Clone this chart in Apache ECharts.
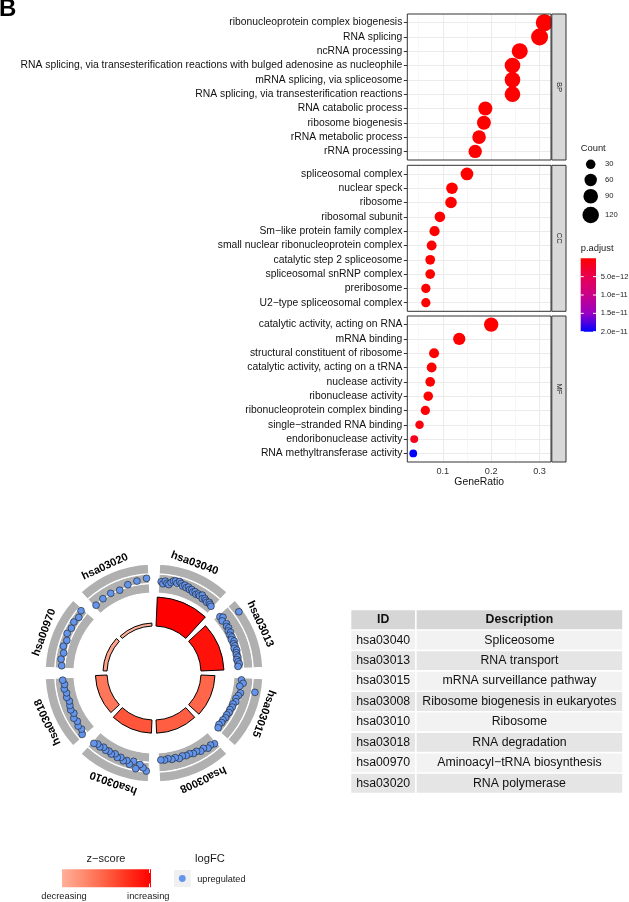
<!DOCTYPE html>
<html>
<head>
<meta charset="utf-8">
<script src="https://cdn.jsdelivr.net/npm/echarts@6.0.0/dist/echarts.min.js"></script>
<style>
html,body{margin:0;padding:0;background:#ffffff;}
#chart{width:629px;height:902px;}
</style>
</head>
<body>
<div id="chart"></div>
<script>
// ---------------- DATA ----------------
const bpTerms = ['ribonucleoprotein complex biogenesis','RNA splicing','ncRNA processing','RNA splicing, via transesterification reactions with bulged adenosine as nucleophile','mRNA splicing, via spliceosome','RNA splicing, via transesterification reactions','RNA catabolic process','ribosome biogenesis','rRNA metabolic process','rRNA processing'];
const bpRatio = [0.310,0.300,0.259,0.244,0.244,0.244,0.188,0.185,0.175,0.167];
const bpCount = [133,129,111,105,105,105,81,80,75,72];
const bpPadj  = [3e-30,2e-28,5e-25,4e-26,4e-26,6e-26,1e-18,2e-17,3e-16,1e-15];

const ccTerms = ['spliceosomal complex','nuclear speck','ribosome','ribosomal subunit','Sm\u2212like protein family complex','small nuclear ribonucleoprotein complex','catalytic step 2 spliceosome','spliceosomal snRNP complex','preribosome','U2\u2212type spliceosomal complex'];
const ccRatio = [0.150,0.119,0.117,0.094,0.083,0.077,0.074,0.074,0.065,0.065];
const ccCount = [64,51,50,40,36,33,32,32,28,28];
const ccPadj  = [1e-28,2e-20,3e-22,5e-18,2e-22,4e-19,1e-18,3e-20,2e-14,6e-17];

const mfTerms = ['catalytic activity, acting on RNA','mRNA binding','structural constituent of ribosome','catalytic activity, acting on a tRNA','nuclease activity','ribonuclease activity','ribonucleoprotein complex binding','single\u2212stranded RNA binding','endoribonuclease activity','RNA methyltransferase activity'];
const mfRatio = [0.200,0.134,0.082,0.077,0.074,0.070,0.064,0.052,0.041,0.039];
const mfCount = [86,58,35,33,32,30,28,22,18,17];
const mfPadj  = [2e-25,3e-16,4e-14,5e-15,2e-13,1e-13,3e-13,8e-13,1.8e-12,2.0e-11];

const xMajorTicks = [0.1,0.2,0.3];
const xMinorTicks = [0.05,0.15,0.25];
const countBreaks = [30,60,90,120];
const padjBreaks = [5e-12,1e-11,1.5e-11,2e-11];

const keggIds = ['hsa03040','hsa03013','hsa03015','hsa03008','hsa03010','hsa03018','hsa00970','hsa03020'];
const keggDesc = ['Spliceosome','RNA transport','mRNA surveillance pathway','Ribosome biogenesis in eukaryotes','Ribosome','RNA degradation','Aminoacyl\u2212tRNA biosynthesis','RNA polymerase'];
const keggNegLogP = [14.5,11.5,7.0,6.6,6.6,5.8,2.0,1.5];
const keggZscore = [7.7,7.3,5.4,5.6,5.8,5.0,3.9,3.5];
const lfcGrid = [0,1,2,3];
const lfc03040 = [1.2,1.0,1.3,1.1,1.0,1.25,1.45,1.5,1.3,1.55,1.4,1.2,1.35,1.15,1.3,1.1,1.2,1.0,1.15,0.95,1.1,1.0,1.2,0.9,1.05,0.95,0.85,1.0,0.9,0.8];
const lfc03013 = [0.7,0.9,0.6,2.55,0.8,0.65,0.75,0.55,0.7,0.5,0.6,0.45,0.65,0.5,0.55,0.4,0.6,0.5,0.45,0.55,0.4,0.5,0.6,0.45];
const lfc03015 = [0.8,1.0,0.7,2.35,0.9,0.75,0.6,0.7,0.5,0.55,0.45,0.5,0.4,0.45,0.35,0.4,0.3,0.45];
const lfc03008 = [1.35,1.2,1.3,1.05,1.15,0.95,1.0,0.85,0.9,0.8,0.95,0.75,0.85,0.7,0.8,0.75];
const lfc03010 = [1.9,1.6,1.3,1.8,1.1,1.5,1.2,1.35,1.1,1.25,1.0,1.2,1.05,1.15,1.0,1.2,1.1,1.3];
const lfc03018 = [1.5,1.2,1.3,1.1,1.25,1.0,1.15,1.05,0.95,1.1,1.0,1.15,1.05,1.2];
const lfc00970 = [1.3,1.45,1.3,1.5,1.35,1.6,1.45,1.55,1.4,1.65];
const lfc03020 = [0.95,1.05,1.1,1.0,1.25,1.4,1.55];

// ---------------- LAYOUT / STYLE ----------------
const FONT = '"Liberation Sans", Arial, Helvetica, sans-serif';
const keggLfc = [lfc03040,lfc03013,lfc03015,lfc03008,lfc03010,lfc03018,lfc00970,lfc03020];
const facets = [
  {name:'BP', terms:bpTerms, ratio:bpRatio, count:bpCount, padj:bpPadj, top:14},
  {name:'CC', terms:ccTerms, ratio:ccRatio, count:ccCount, padj:ccPadj, top:165.3},
  {name:'MF', terms:mfTerms, ratio:mfRatio, count:mfCount, padj:mfPadj, top:316}
];
const panelX = 407.3, panelW = 143.7, panelH = 146;
const xMin = 0.0267, xMax = 0.3236;
const sizeOf = c => 2.5 + 1.28 * Math.sqrt(c);
const allP = bpPadj.concat(ccPadj, mfPadj);
const pLow = Math.min.apply(null, allP), pHigh = Math.max.apply(null, allP);
const pColors = ['#FF0000','#E80050','#CA0089','#9A00C3','#0000FF'];
const zColors = ['#FFB09A','#FF8A6E','#FF5E42','#FF2E1A','#FF0000'];
const cx = 154, cy = 673;

function txt(text, x, y, size, opts) {
  opts = opts || {};
  return {type:'text', x:x, y:y, rotation:opts.rotation||0, z:100, silent:true,
    style:{text:text, font:(opts.bold?'bold ':'')+size+'px '+FONT, fill:opts.color||'#1A1A1A',
      align:opts.align||'left', textAlign:opts.align||'left',
      verticalAlign:opts.va||'middle', textVerticalAlign:opts.va||'middle'}};
}

const grids = [], xAxes = [], yAxes = [], series = [], graphics = [];
facets.forEach((f, i) => {
  grids.push({left:panelX, top:f.top, width:panelW, height:panelH, outerBoundsMode:'none', containLabel:false});
  const isLast = i === facets.length - 1;
  xAxes.push({gridIndex:i, type:'value', min:xMin, max:xMax,
    axisLine:{show:false}, splitLine:{show:false},
    axisTick:{show:isLast, customValues:xMajorTicks, length:3.5, lineStyle:{color:'#333333', width:1}},
    axisLabel:{show:isLast, customValues:xMajorTicks, margin:5, fontSize:9.2, color:'#333333', fontFamily:FONT,
      formatter: v => v.toFixed(1)},
    name: isLast ? 'GeneRatio' : '', nameLocation:'middle', nameGap:15,
    nameTextStyle:{fontSize:10.4, color:'#111', fontFamily:FONT}});
  const idx = f.terms.map((t, j) => j);
  yAxes.push({gridIndex:i, type:'value', min:-0.6, max:f.terms.length - 0.4, inverse:true,
    axisLine:{show:false}, splitLine:{show:false},
    axisTick:{show:true, customValues:idx, length:3.5, lineStyle:{color:'#333333', width:1}},
    axisLabel:{show:true, customValues:idx, margin:5, fontSize:10.35, color:'#111', fontFamily:FONT,
      formatter: v => f.terms[Math.round(v)]}});
  series.push({type:'scatter', xAxisIndex:i, yAxisIndex:i, z:10, clip:true,
    data: f.terms.map((t, j) => [f.ratio[j], j, f.count[j], f.padj[j]]),
    symbolSize: v => sizeOf(v[2]),
    itemStyle:{opacity:1},
    emphasis:{disabled:true},
    markLine:{silent:true, symbol:['none','none'], label:{show:false}, animation:false, z:1,
      emphasis:{disabled:true},
      lineStyle:{color:'#EBEBEB', width:1, type:'solid'},
      data: idx.map(j => ({yAxis:j}))
        .concat(xMajorTicks.map(v => ({xAxis:v})))
        .concat(xMinorTicks.map(v => ({xAxis:v, lineStyle:{color:'#F3F3F3', width:0.7, type:'solid'}})))}});
  graphics.push({type:'rect', z:90, silent:true, shape:{x:panelX, y:f.top, width:panelW, height:panelH},
    style:{fill:null, stroke:'#333333', lineWidth:1}});
  graphics.push({type:'rect', z:90, silent:true, shape:{x:panelX + panelW + 0.8, y:f.top, width:14.2, height:panelH},
    style:{fill:'#D9D9D9', stroke:'#333333', lineWidth:1}});
  graphics.push(txt(f.name, panelX + panelW + 7.9, f.top + panelH / 2, 7.6, {rotation:-Math.PI/2, align:'center'}));
});

// --- Circle (polar) ---
const hidden = {axisLine:{show:false}, axisTick:{show:false}, axisLabel:{show:false}, splitLine:{show:false}, splitArea:{show:false}};
const polars = [
  {center:[cx,cy], radius:[47,79]},
  {center:[cx,cy], radius:[80,109]},
  {center:[cx,cy], radius:[80,109]},
  {center:[cx,cy], radius:[0,117]}
];
const angleAxes = [
  Object.assign({polarIndex:0, type:'category', data:keggIds, startAngle:90, clockwise:true}, hidden),
  Object.assign({polarIndex:1, type:'category', data:keggIds, startAngle:90, clockwise:true}, hidden),
  Object.assign({polarIndex:2, type:'value', min:0, max:keggIds.length, startAngle:90, clockwise:true}, hidden),
  Object.assign({polarIndex:3, type:'value', min:0, max:keggIds.length, startAngle:90, clockwise:true}, hidden)
];
const radiusAxes = [
  Object.assign({polarIndex:0, type:'value', min:0, max:16}, hidden),
  Object.assign({polarIndex:1, type:'value', min:lfcGrid[0], max:lfcGrid[lfcGrid.length-1]}, hidden),
  Object.assign({polarIndex:2, type:'value', min:lfcGrid[0], max:lfcGrid[lfcGrid.length-1]}, hidden),
  Object.assign({polarIndex:3, type:'value', min:0, max:1}, hidden)
];
const barSeriesIndex = series.length;
series.push({type:'bar', coordinateSystem:'polar', polarIndex:0, z:3, silent:true,
  barCategoryGap:'11%',
  data: keggIds.map((id, k) => ({value:[keggNegLogP[k], id, keggZscore[k]]})),
  itemStyle:{borderColor:'#000000', borderWidth:1}});
for (let t = 1; t < lfcGrid.length; t++) {
  series.push({type:'bar', coordinateSystem:'polar', polarIndex:1, stack:'band', z:2, silent:true,
    barCategoryGap:'13%',
    data: keggIds.map(id => [lfcGrid[t] - lfcGrid[t-1], id]),
    itemStyle:{color:'#B0B0B0', borderColor:'#FFFFFF', borderWidth:1.3}});
}
const dotData = [];
keggLfc.forEach((arr, k) => {
  arr.forEach((v, i) => {
    const frac = arr.length === 1 ? 0.5 : i / (arr.length - 1);
    dotData.push([v, k + 0.1 + 0.8 * frac]);
  });
});
series.push({type:'scatter', coordinateSystem:'polar', polarIndex:2, z:4, silent:true,
  data:dotData, symbolSize:6.8,
  itemStyle:{color:'#6495ED', borderColor:'#1A1A1A', borderWidth:0.6, opacity:1}});
series.push({type:'custom', coordinateSystem:'polar', polarIndex:3, z:5, silent:true,
  data: keggIds.map((id, k) => [1, k + 0.45]),
  renderItem: (params, api) => {
    const p = api.coord([api.value(0), api.value(1)]);
    const c = params.coordSys;
    const theta = Math.atan2(p[0] - c.cx, c.cy - p[1]);
    return {type:'text', x:p[0], y:p[1], rotation:-theta,
      style:{text:keggIds[params.dataIndex], font:'bold 11px ' + FONT, fill:'#000',
        align:'center', textAlign:'center', verticalAlign:'middle', textVerticalAlign:'middle'}};
  }});

// --- Table ---
const tableRows = [['ID','Description']].concat(keggIds.map((id, k) => [id, keggDesc[k]]));
const tableColSplit = 0.2398;
const tableGridIndex = grids.length;
grids.push({left:350.5, top:609.5, width:272.5, height:184, outerBoundsMode:'none', containLabel:false});
xAxes.push(Object.assign({gridIndex:tableGridIndex, type:'value', min:0, max:1}, hidden));
yAxes.push(Object.assign({gridIndex:tableGridIndex, type:'category', inverse:true, data:tableRows.map(r => r[0])}, hidden));
series.push({type:'custom', xAxisIndex:tableGridIndex, yAxisIndex:tableGridIndex, silent:true, z:5,
  data: tableRows.map((r, i) => [0.5, i]),
  renderItem: (params, api) => {
    const i = api.value(1);
    const c = api.coord([0, i]);
    const h = api.size([0, 1])[1];
    const xL = c[0], xS = api.coord([tableColSplit, i])[0], xR = api.coord([1, i])[0];
    const y0 = c[1] - h / 2;
    const head = i === 0;
    const fill = head ? '#D6D6D6' : (i % 2 === 1 ? '#F2F2F2' : '#E5E5E5');
    const font = (head ? 'bold ' : '') + '12.3px ' + FONT;
    const row = tableRows[i];
    const ts = t => ({text:t, font:font, fill:'#111', align:'center', textAlign:'center', verticalAlign:'middle', textVerticalAlign:'middle'});
    return {type:'group', children:[
      {type:'rect', shape:{x:xL + 0.8, y:y0 + 0.8, width:xS - xL - 1.6, height:h - 1.6}, style:{fill:fill}},
      {type:'rect', shape:{x:xS + 0.8, y:y0 + 0.8, width:xR - xS - 1.6, height:h - 1.6}, style:{fill:fill}},
      {type:'text', x:(xL + xS) / 2, y:c[1], style:ts(row[0])},
      {type:'text', x:(xS + xR) / 2, y:c[1], style:ts(row[1])}
    ]};
  }});

// --- Legends and labels (graphic) ---
graphics.push(txt('B', -1, 9, 24, {bold:true, color:'#000'}));
graphics.push(txt('Count', 580.7, 148, 9.4));
const countY = [164.3, 180, 196.3, 215];
countBreaks.forEach((b, i) => {
  graphics.push({type:'circle', z:100, silent:true, shape:{cx:590.7, cy:countY[i], r:sizeOf(b) / 2}, style:{fill:'#000'}});
  graphics.push(txt(String(b), 605, countY[i], 7.6));
});
graphics.push(txt('p.adjust', 580.7, 248.3, 9.4));
const cbX = 580.7, cbY = 258.3, cbW = 15.3, cbH = 73.4;
graphics.push({type:'rect', z:100, silent:true, shape:{x:cbX, y:cbY, width:cbW, height:cbH},
  style:{fill:{type:'linear', x:0, y:0, x2:0, y2:1,
    colorStops:pColors.map((c, i) => ({offset:i / (pColors.length - 1), color:c}))}}});
padjBreaks.forEach(b => {
  const y = cbY + (b - pLow) / (pHigh - pLow) * cbH;
  graphics.push({type:'line', z:101, silent:true, shape:{x1:cbX, y1:y, x2:cbX + 3, y2:y}, style:{stroke:'#fff', lineWidth:1}});
  graphics.push({type:'line', z:101, silent:true, shape:{x1:cbX + cbW - 3, y1:y, x2:cbX + cbW, y2:y}, style:{stroke:'#fff', lineWidth:1}});
  graphics.push(txt(b.toExponential(1).replace('-', '\u2212'), 600.7, y, 7.6));
});
graphics.push(txt('z\u2212score', 106, 859, 11, {align:'center'}));
graphics.push({type:'rect', z:100, silent:true, shape:{x:62, y:869.3, width:89, height:18},
  style:{fill:{type:'linear', x:0, y:0, x2:1, y2:0,
    colorStops:zColors.map((c, i) => ({offset:i / (zColors.length - 1), color:c}))}}});
graphics.push({type:'line', z:101, silent:true, shape:{x1:149.5, y1:869.3, x2:149.5, y2:873}, style:{stroke:'#fff', lineWidth:1}});
graphics.push({type:'line', z:101, silent:true, shape:{x1:149.5, y1:883.6, x2:149.5, y2:887.3}, style:{stroke:'#fff', lineWidth:1}});
graphics.push(txt('decreasing', 64, 896.7, 9.3, {align:'center'}));
graphics.push(txt('increasing', 148.3, 896.7, 9.3, {align:'center'}));
graphics.push(txt('logFC', 210, 859, 11.2, {align:'center'}));
graphics.push({type:'rect', z:100, silent:true, shape:{x:174, y:870, width:16.7, height:17}, style:{fill:'#F0F0F0'}});
graphics.push({type:'circle', z:101, silent:true, shape:{cx:182.3, cy:878.5, r:3.4}, style:{fill:'#6495ED'}});
graphics.push(txt('upregulated', 197.3, 879, 9.15));

const option = {
  backgroundColor:'#ffffff',
  animation:false,
  textStyle:{fontFamily:FONT},
  grid:grids, xAxis:xAxes, yAxis:yAxes,
  polar:polars, angleAxis:angleAxes, radiusAxis:radiusAxes,
  visualMap:[
    {type:'continuous', show:false, seriesIndex:[0,1,2], dimension:3, min:pLow, max:pHigh, inRange:{color:pColors}},
    {type:'continuous', show:false, seriesIndex:[barSeriesIndex], dimension:2,
      min:Math.min.apply(null, keggZscore), max:Math.max.apply(null, keggZscore), inRange:{color:zColors}}
  ],
  series:series,
  graphic:{elements:graphics}
};
const chart = echarts.init(document.getElementById('chart'), null, {renderer:'canvas'});
chart.setOption(option);
</script>
</body>
</html>
